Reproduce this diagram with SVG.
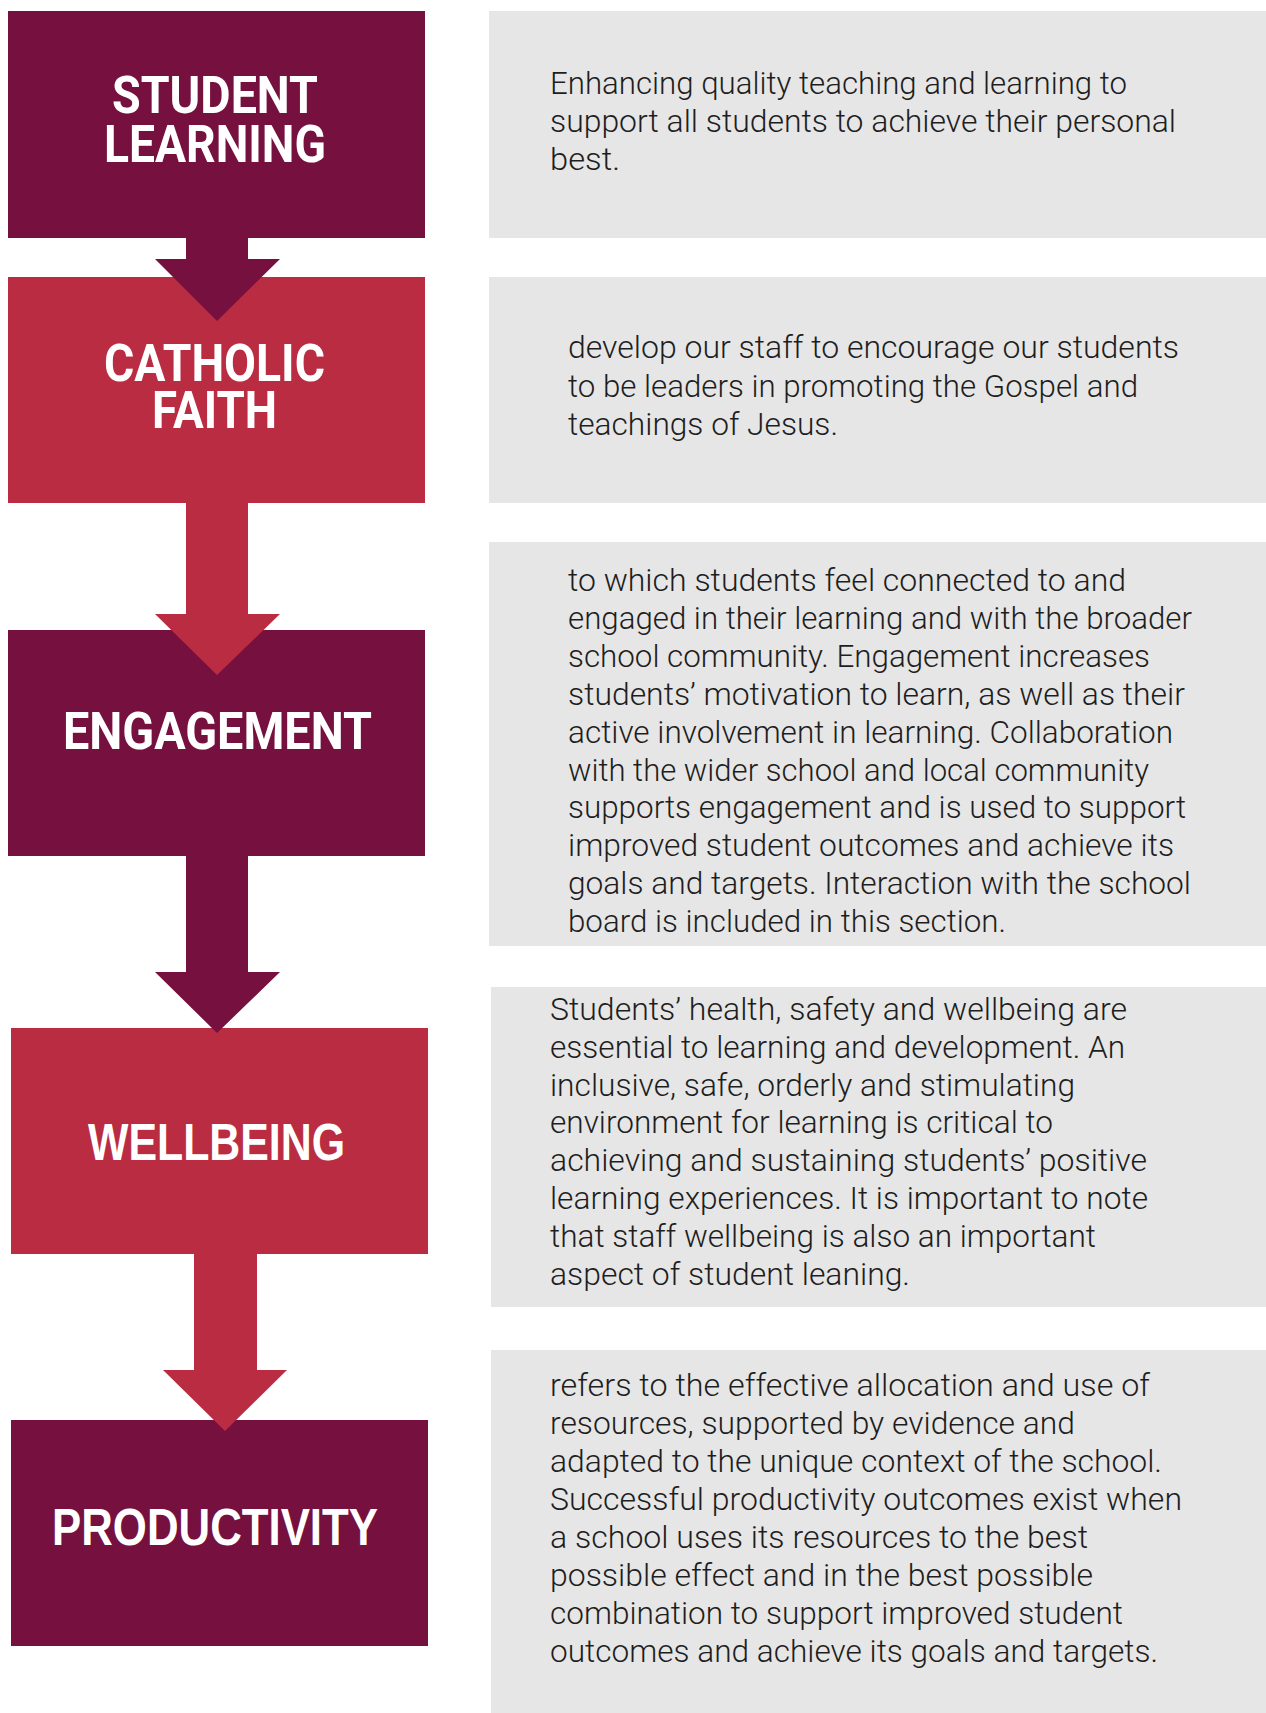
<svg xmlns="http://www.w3.org/2000/svg" width="1266" height="1713" viewBox="0 0 1266 1713">
<style>
.dark{fill:#76103E}
.red{fill:#BA2C42}
.panel{fill:#E6E6E6}
.title{font-family:"Roboto","Liberation Sans",sans-serif;font-weight:700;font-size:52px;fill:#FFFFFF}
.title2{font-family:"Liberation Sans","Roboto",sans-serif;font-weight:700;font-size:52px;fill:#FFFFFF}
.body{font-family:"Roboto","Liberation Sans",sans-serif;font-weight:300;font-size:31px;fill:#1E1E1E}
</style>
<rect x="0" y="0" width="1266" height="1713" fill="#FFFFFF"/>
<g id="node-student-learning">
<rect class="dark" x="8" y="11" width="417" height="227"/>
<text class="title" x="112" y="113" textLength="206" lengthAdjust="spacingAndGlyphs">STUDENT</text>
<text class="title" x="104" y="162" textLength="222" lengthAdjust="spacingAndGlyphs">LEARNING</text>
</g>
<g id="node-catholic-faith">
<rect class="red" x="8" y="277" width="417" height="226"/>
<text class="title" x="104" y="381" textLength="221" lengthAdjust="spacingAndGlyphs">CATHOLIC</text>
<text class="title" x="152" y="428" textLength="125" lengthAdjust="spacingAndGlyphs">FAITH</text>
</g>
<g id="node-engagement">
<rect class="dark" x="8" y="630" width="417" height="226"/>
<text class="title" x="63" y="749" textLength="309" lengthAdjust="spacingAndGlyphs">ENGAGEMENT</text>
</g>
<g id="node-wellbeing">
<rect class="red" x="11" y="1028" width="417" height="226"/>
<text class="title2" x="88" y="1160" textLength="257" lengthAdjust="spacingAndGlyphs">WELLBEING</text>
</g>
<g id="node-productivity">
<rect class="dark" x="11" y="1420" width="417" height="226"/>
<text class="title2" x="52" y="1545" textLength="326" lengthAdjust="spacingAndGlyphs">PRODUCTIVITY</text>
</g>
<g id="desc-student-learning">
<rect class="panel" x="489" y="11" width="777" height="227"/>
<text class="body" x="550" y="94" textLength="577" lengthAdjust="spacingAndGlyphs">Enhancing quality teaching and learning to</text>
<text class="body" x="550" y="132" textLength="626" lengthAdjust="spacingAndGlyphs">support all students to achieve their personal</text>
<text class="body" x="550" y="170" textLength="70" lengthAdjust="spacingAndGlyphs">best.</text>
</g>
<g id="desc-catholic-faith">
<rect class="panel" x="489" y="277" width="777" height="226"/>
<text class="body" x="568" y="358" textLength="611" lengthAdjust="spacingAndGlyphs">develop our staff to encourage our students</text>
<text class="body" x="568" y="397" textLength="570" lengthAdjust="spacingAndGlyphs">to be leaders in promoting the Gospel and</text>
<text class="body" x="568" y="435" textLength="270" lengthAdjust="spacingAndGlyphs">teachings of Jesus.</text>
</g>
<g id="desc-engagement">
<rect class="panel" x="489" y="542" width="777" height="404"/>
<text class="body" x="568" y="591" textLength="558" lengthAdjust="spacingAndGlyphs">to which students feel connected to and</text>
<text class="body" x="568" y="629" textLength="624" lengthAdjust="spacingAndGlyphs">engaged in their learning and with the broader</text>
<text class="body" x="568" y="667" textLength="582" lengthAdjust="spacingAndGlyphs">school community. Engagement increases</text>
<text class="body" x="568" y="705" textLength="617" lengthAdjust="spacingAndGlyphs">students’ motivation to learn, as well as their</text>
<text class="body" x="568" y="743" textLength="605" lengthAdjust="spacingAndGlyphs">active involvement in learning. Collaboration</text>
<text class="body" x="568" y="781" textLength="581" lengthAdjust="spacingAndGlyphs">with the wider school and local community</text>
<text class="body" x="568" y="818" textLength="618" lengthAdjust="spacingAndGlyphs">supports engagement and is used to support</text>
<text class="body" x="568" y="856" textLength="606" lengthAdjust="spacingAndGlyphs">improved student outcomes and achieve its</text>
<text class="body" x="568" y="894" textLength="623" lengthAdjust="spacingAndGlyphs">goals and targets. Interaction with the school</text>
<text class="body" x="568" y="932" textLength="438" lengthAdjust="spacingAndGlyphs">board is included in this section.</text>
</g>
<g id="desc-wellbeing">
<rect class="panel" x="491" y="987" width="775" height="320"/>
<text class="body" x="550" y="1020" textLength="577" lengthAdjust="spacingAndGlyphs">Students’ health, safety and wellbeing are</text>
<text class="body" x="550" y="1058" textLength="575" lengthAdjust="spacingAndGlyphs">essential to learning and development. An</text>
<text class="body" x="550" y="1096" textLength="525" lengthAdjust="spacingAndGlyphs">inclusive, safe, orderly and stimulating</text>
<text class="body" x="550" y="1133" textLength="503" lengthAdjust="spacingAndGlyphs">environment for learning is critical to</text>
<text class="body" x="550" y="1171" textLength="597" lengthAdjust="spacingAndGlyphs">achieving and sustaining students’ positive</text>
<text class="body" x="550" y="1209" textLength="598" lengthAdjust="spacingAndGlyphs">learning experiences. It is important to note</text>
<text class="body" x="550" y="1247" textLength="546" lengthAdjust="spacingAndGlyphs">that staff wellbeing is also an important</text>
<text class="body" x="550" y="1285" textLength="360" lengthAdjust="spacingAndGlyphs">aspect of student leaning.</text>
</g>
<g id="desc-productivity">
<rect class="panel" x="491" y="1350" width="775" height="363"/>
<text class="body" x="550" y="1396" textLength="600" lengthAdjust="spacingAndGlyphs">refers to the effective allocation and use of</text>
<text class="body" x="550" y="1434" textLength="525" lengthAdjust="spacingAndGlyphs">resources, supported by evidence and</text>
<text class="body" x="550" y="1472" textLength="612" lengthAdjust="spacingAndGlyphs">adapted to the unique context of the school.</text>
<text class="body" x="550" y="1510" textLength="632" lengthAdjust="spacingAndGlyphs">Successful productivity outcomes exist when</text>
<text class="body" x="550" y="1548" textLength="538" lengthAdjust="spacingAndGlyphs">a school uses its resources to the best</text>
<text class="body" x="550" y="1586" textLength="543" lengthAdjust="spacingAndGlyphs">possible effect and in the best possible</text>
<text class="body" x="550" y="1624" textLength="573" lengthAdjust="spacingAndGlyphs">combination to support improved student</text>
<text class="body" x="550" y="1662" textLength="608" lengthAdjust="spacingAndGlyphs">outcomes and achieve its goals and targets.</text>
</g>
<g id="connectors">
<polygon class="dark" points="186,237 248,237 248,259 280,259 217,321 155,259 186,259"/>
<polygon class="red" points="186,502 248,502 248,614 280,614 217,675 155,614 186,614"/>
<polygon class="dark" points="186,855 248,855 248,972 280,972 217,1033 155,972 186,972"/>
<polygon class="red" points="194,1253 257,1253 257,1370 287,1370 225,1431 163,1370 194,1370"/>
</g>
</svg>
